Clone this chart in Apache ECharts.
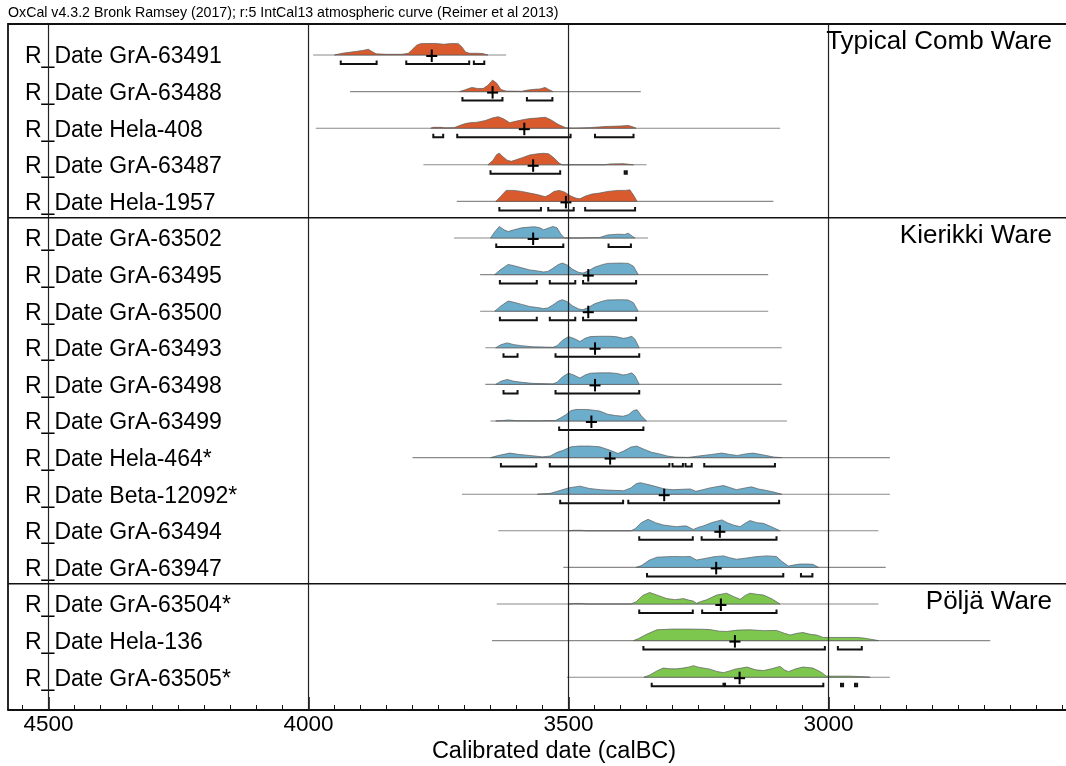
<!DOCTYPE html>
<html><head><meta charset="utf-8">
<script src="https://cdn.jsdelivr.net/npm/echarts@6/dist/echarts.min.js"></script>
<style>html,body{margin:0;padding:0;background:#fff}#c{width:1066px;height:766px}</style>
</head><body><div id="c"></div><script>
// ---------- DATA ----------
const titleText = 'OxCal v4.3.2 Bronk Ramsey (2017); r:5 IntCal13 atmospheric curve (Reimer et al 2013)';
const axisName = 'Calibrated date (calBC)';
const majorTicks = [4500, 4000, 3500, 3000];
const minorTicks = [4550,4450,4400,4350,4300,4250,4200,4150,4100,4050,3950,3900,3850,3800,3750,3700,3650,3600,3550,3450,3400,3350,3300,3250,3200,3150,3100,3050,2950,2900,2850,2800,2750,2700,2650,2600,2550];

const sampleNames = ['GrA-63491','GrA-63488','Hela-408','GrA-63487','Hela-1957',
  'GrA-63502','GrA-63495','GrA-63500','GrA-63493','GrA-63498','GrA-63499','Hela-464*','Beta-12092*','GrA-63494','GrA-63947',
  'GrA-63504*','Hela-136','GrA-63505*'];

const sectionNames = ['Typical Comb Ware', 'Kierikki Ware', 'Pöljä Ware'];
const sectionStartRow = [0, 5, 15];
const sectionEndRow = [4, 14, 17];
const sectionColors = ['#D95A2C', '#6BADCA', '#7DC74F'];

// relative probability curves: [year calBC, relative density]
const d_GrA63491 = [[3950,0],[3935,1.5],[3910,3],[3895,4],[3885,5],[3878,3],[3870,1],[3850,0.6],[3820,0.6],[3808,1.5],[3800,5],[3792,8.5],[3785,9.8],[3770,10],[3755,10],[3740,9.3],[3725,10],[3712,9.8],[3705,7],[3698,2.5],[3690,1.5],[3675,1.5],[3665,1.2],[3655,0]];
const d_GrA63488 = [[3710,0],[3700,1.5],[3686,4],[3675,3],[3664,3],[3655,6],[3646,11],[3638,8],[3630,2],[3620,0.5],[3590,0.3],[3578,1.5],[3565,2.2],[3555,2.5],[3545,4],[3538,2],[3530,0]];
const d_Hela408 = [[3765,0],[3760,0.8],[3745,0.8],[3738,0.3],[3720,0.5],[3712,2],[3700,4],[3690,5],[3675,5.5],[3660,7],[3645,9.5],[3635,10.5],[3625,8.5],[3613,5],[3600,6.5],[3585,8],[3574,8.8],[3560,9.3],[3545,10],[3535,8],[3520,3.5],[3505,0.3],[3490,0],[3460,0.5],[3430,1.5],[3400,2],[3385,2.5],[3378,1.5],[3370,0]];
const d_GrA63487 = [[3655,0],[3645,4],[3638,9],[3633,10],[3626,7],[3618,4],[3610,3],[3600,4.5],[3590,6],[3575,8.5],[3560,9.5],[3548,10],[3538,9.5],[3528,6],[3518,1.5],[3512,0],[3430,0],[3420,0.8],[3395,1],[3385,0.5],[3375,0]];
const d_Hela1957 = [[3640,0],[3630,5],[3620,10.5],[3605,10.5],[3590,9.5],[3575,8],[3560,6.5],[3545,4.5],[3538,6],[3528,9.5],[3518,10.5],[3508,9],[3495,5],[3485,3],[3478,2.5],[3468,5],[3455,7],[3440,8],[3425,9.5],[3405,10.5],[3390,10.5],[3382,11],[3375,6],[3368,0]];
const d_GrA63502 = [[3650,0],[3642,6],[3633,11.3],[3624,8],[3616,6.3],[3605,8],[3590,10],[3575,10.7],[3565,11],[3555,10],[3548,8],[3540,9.5],[3530,11.3],[3522,10],[3515,4],[3508,0],[3480,0],[3440,0.5],[3425,3],[3405,3.7],[3392,3.5],[3385,4.7],[3378,2],[3372,0]];
const d_GrA63495 = [[3642,0],[3630,5],[3616,9.7],[3605,8.5],[3590,6.5],[3575,4.5],[3560,3.5],[3548,2.5],[3540,3],[3530,6],[3520,9.5],[3512,11],[3502,9],[3492,5],[3480,2],[3472,1.5],[3462,3.5],[3450,7],[3435,9.5],[3425,10.7],[3400,11],[3385,10.7],[3375,8],[3366,0]];
const d_GrA63500 = [[3642,0],[3630,5],[3616,9.7],[3605,8.5],[3590,6.5],[3575,4.5],[3560,3.5],[3548,2.5],[3540,3],[3530,6],[3520,9.5],[3512,11],[3502,9],[3492,5],[3480,2],[3472,1.5],[3462,3.5],[3450,7],[3435,9.5],[3425,10.7],[3400,11],[3385,10.7],[3375,8],[3366,0]];
const d_GrA63493 = [[3640,0],[3630,3],[3618,4.7],[3605,3],[3590,2],[3570,1],[3545,0.7],[3530,0.5],[3522,2],[3512,7],[3500,10.7],[3490,9],[3478,6],[3468,9],[3458,10.7],[3440,11],[3420,11],[3407,10.5],[3395,9],[3388,9.5],[3378,11],[3372,8],[3364,0]];
const d_GrA63498 = [[3640,0],[3630,3],[3618,4.7],[3605,3],[3590,2],[3570,1],[3545,0.7],[3530,0.5],[3522,2],[3512,7],[3500,10.7],[3490,9],[3478,6],[3468,9],[3458,10.7],[3440,11],[3420,11],[3407,10.5],[3395,9],[3388,9.5],[3378,11],[3372,8],[3364,0]];
const d_GrA63499 = [[3640,0],[3625,0.5],[3615,1],[3600,0.3],[3560,0.2],[3525,0.5],[3515,3],[3505,6],[3495,10],[3485,11],[3465,11],[3452,10.3],[3440,9.5],[3425,6.5],[3410,5.2],[3395,4.5],[3385,6],[3375,10],[3368,10.7],[3360,5],[3350,0]];
const d_Hela464 = [[3650,0],[3635,2],[3613,4.3],[3595,3],[3570,1.8],[3550,0.7],[3535,1.5],[3522,5],[3510,7],[3495,10.3],[3480,11],[3460,11],[3440,10.3],[3420,7],[3405,4],[3395,6],[3380,10],[3369,11],[3355,8],[3340,5],[3325,3.5],[3310,1.5],[3295,0.5],[3270,0.2],[3250,1.5],[3225,3],[3205,4.3],[3190,3],[3175,2],[3160,3.5],[3145,4.3],[3125,2.5],[3105,0.5],[3090,0]];
const d_Beta12092 = [[3560,0],[3535,0.8],[3520,3],[3500,6],[3478,7.7],[3460,5.5],[3439,4.3],[3415,3.7],[3394,3.3],[3380,6],[3370,10],[3362,11],[3345,9],[3330,7],[3315,5],[3299,4.3],[3280,4.7],[3266,5],[3255,2.7],[3240,4.5],[3228,6],[3202,8.3],[3177,4.3],[3160,6],[3148,7],[3135,5],[3121,3.7],[3105,2],[3090,0]];
const d_GrA63494 = [[3500,0],[3490,0.5],[3475,0.5],[3465,0],[3380,0],[3372,2],[3360,8],[3347,11.3],[3333,8],[3318,5.7],[3300,4.5],[3292,4],[3280,4.7],[3273,4.7],[3260,1.3],[3250,3.5],[3241,4.7],[3225,8],[3205,10.7],[3195,8],[3183,5.7],[3170,4],[3160,7.5],[3151,10],[3138,8],[3125,7.3],[3110,4],[3093,0]];
const d_GrA63947 = [[3370,0],[3359,2],[3345,7],[3330,10],[3300,10.7],[3280,10.5],[3266,10.7],[3254,7.3],[3240,8.5],[3220,10.5],[3202,11.3],[3190,9.5],[3177,8],[3160,9],[3140,10.5],[3119,11.3],[3100,10.7],[3090,6],[3077,1.3],[3065,2.5],[3055,3.3],[3040,3.3],[3030,3],[3019,0]];
const d_GrA63504 = [[3500,0],[3490,0.5],[3475,0.5],[3465,0],[3380,0],[3370,2],[3357,8],[3344,10.7],[3328,8],[3311,5],[3295,4],[3279,5],[3268,3.5],[3260,2.7],[3254,0.7],[3244,2.5],[3234,4],[3215,8.3],[3196,10],[3183,7],[3170,4.3],[3160,8],[3151,10],[3138,9],[3125,8.3],[3110,5],[3093,0]];
const d_Hela136 = [[3375,0],[3365,2],[3350,6],[3330,10.3],[3300,11],[3270,11],[3240,10.8],[3228,10.5],[3210,9],[3196,8.7],[3175,10],[3151,10.3],[3125,9.5],[3100,9.7],[3085,7],[3074,5.3],[3060,7],[3049,7.7],[3035,6],[3023,5.3],[3010,3],[3000,3],[2970,3],[2945,3],[2933,2.5],[2915,1],[2904,0]];
const d_GrA63505 = [[3355,0],[3344,2],[3330,6],[3318,8.7],[3305,8],[3292,8],[3280,8.7],[3268,9.7],[3260,11],[3250,9.5],[3228,7.7],[3215,5.5],[3202,4.3],[3190,6],[3180,7.7],[3170,8.5],[3157,9.7],[3140,7],[3125,6.3],[3110,8],[3093,10.3],[3085,7],[3077,5.3],[3063,8],[3049,9.7],[3030,8.7],[3015,5],[3004,1],[2990,1],[2960,1],[2935,0.5],[2920,0]];

const densities = [d_GrA63491,d_GrA63488,d_Hela408,d_GrA63487,d_Hela1957,d_GrA63502,d_GrA63495,d_GrA63500,d_GrA63493,d_GrA63498,d_GrA63499,d_Hela464,d_Beta12092,d_GrA63494,d_GrA63947,d_GrA63504,d_Hela136,d_GrA63505];

// extent of the plotted likelihood (thin line), [from, to] calBC
const lineExtents = [[3991,3620],[3920,3361],[3986,3093],[3779,3350],[3715,3106],[3720,3347],[3670,3116],[3670,3116],[3660,3090],[3660,3090],[3650,3080],[3800,2882],[3705,2882],[3635,2904],[3510,2890],[3638,2904],[3647,2689],[3503,2882]];

// median (cross)
const medians = [3763,3646,3585,3568,3505,3568,3462,3462,3449,3449,3456,3420,3316,3209,3216,3207,3180,3171];

// 95.4% ranges
const ranges = [
  [[3938,3869],[3812,3691],[3682,3662]],
  [[3704,3627],[3580,3531]],
  [[3760,3741],[3714,3496],[3449,3375]],
  [[3650,3516],[3392,3388]],
  [[3633,3553],[3539,3490],[3468,3372]],
  [[3639,3510],[3423,3380]],
  [[3632,3561],[3536,3487],[3472,3370]],
  [[3632,3561],[3536,3487],[3472,3370]],
  [[3625,3598],[3525,3364]],
  [[3625,3598],[3525,3364]],
  [[3518,3356]],
  [[3630,3562],[3536,3306],[3300,3280],[3275,3263],[3239,3103]],
  [[3516,3395],[3385,3095]],
  [[3364,3261],[3244,3100]],
  [[3349,3087],[3053,3031]],
  [[3364,3261],[3243,3100]],
  [[3356,3007],[2982,2936]],
  [[3340,3202],[3199,3010],[2976,2972],[2949,2945]]
];

// ---------- CHART ----------
const FONT = '"Liberation Sans", Arial, Helvetica, sans-serif';
function sectionOf(i) { for (let s = 0; s < sectionStartRow.length; s++) if (i >= sectionStartRow[s] && i <= sectionEndRow[s]) return s; return 0; }

const chart = echarts.init(document.getElementById('c'), null, {renderer: 'canvas'});

function renderRow(params, api) {
  const i = params.dataIndex;
  const cs = params.coordSys;
  const y0 = api.coord([medians[i], i])[1];
  const unit = api.size([0, 1])[1];
  const peak = unit * 0.315;
  const color = sectionColors[sectionOf(i)];
  const dens = densities[i];
  const maxD = Math.max.apply(null, dens.map(p => p[1]));
  const pts = dens.map(p => [api.coord([p[0], i])[0], y0 - p[1] / maxD * peak]);
  const children = [];
  const le = lineExtents[i];
  children.push({type: 'line', shape: {x1: api.coord([le[0], i])[0], y1: y0, x2: api.coord([le[1], i])[0], y2: y0},
    style: {stroke: '#8a8a8a', lineWidth: 1.1}});
  children.push({type: 'polygon', shape: {points: pts}, style: {fill: color, stroke: '#5a5a5a', lineWidth: 0.7}});
  const by = y0 + 9;
  ranges[i].forEach(r => {
    const xa = api.coord([r[0], i])[0], xb = api.coord([r[1], i])[0];
    children.push({type: 'polyline', shape: {points: [[xa, by - 3.5], [xa, by], [xb, by], [xb, by - 3.5]]},
      style: {stroke: '#111', lineWidth: 2, fill: null}});
  });
  const xm = api.coord([medians[i], i])[0];
  children.push({type: 'line', shape: {x1: xm - 5.5, y1: y0 + 1, x2: xm + 5.5, y2: y0 + 1}, style: {stroke: '#000', lineWidth: 2}});
  children.push({type: 'line', shape: {x1: xm, y1: y0 - 5.5, x2: xm, y2: y0 + 7}, style: {stroke: '#000', lineWidth: 2}});
  children.push({type: 'text', x: cs.x + 17, y: y0 + 2, style: {text: 'R_Date ' + sampleNames[i], font: '23px ' + FONT, fill: '#000', align: 'left', verticalAlign: 'middle'}});
  return {type: 'group', children};
}

function renderGrid(params, api) {
  const cs = params.coordSys;
  const x = api.coord([majorTicks[params.dataIndex], 0])[0];
  return {type: 'line', shape: {x1: x, y1: cs.y, x2: x, y2: cs.y + cs.height}, style: {stroke: '#222', lineWidth: 1.2}};
}

function renderSection(params, api) {
  const cs = params.coordSys;
  const s = params.dataIndex;
  const start = sectionStartRow[s];
  const children = [];
  let top = cs.y;
  if (start > 0) {
    top = api.coord([4000, start - 0.555])[1];
    children.push({type: 'line', shape: {x1: cs.x, y1: top, x2: cs.x + cs.width, y2: top}, style: {stroke: '#111', lineWidth: 1.5}});
  } else {
    // outer frame: top and left edges (right edge lies beyond the picture)
    children.push({type: 'polyline', shape: {points: [[cs.x + cs.width + 2, cs.y], [cs.x, cs.y], [cs.x, cs.y + cs.height]]}, style: {stroke: '#111', lineWidth: 1.8, fill: null}});
  }
  children.push({type: 'text', x: 1052, y: top + 18, style: {text: sectionNames[s], font: '26px ' + FONT, fill: '#000', align: 'right', verticalAlign: 'middle'}});
  return {type: 'group', children};
}

// left edge of the plot is 4577.9 calBC, right edge (x = 1066 px) 2543.3 calBC
const xMax = 4577.9, xMin = 2543.3;
const option = {
  animation: false,
  backgroundColor: '#fff',
  grid: {left: 8, right: 0, top: 24, bottom: 56, show: false, containLabel: false},
  xAxis: [{
    type: 'value', inverse: true, min: xMin, max: xMax, position: 'bottom',
    axisLine: {show: true, onZero: false, lineStyle: {color: '#111', width: 2}},
    axisTick: {show: true, inside: true, length: 13, customValues: majorTicks, lineStyle: {color: '#111', width: 1.5}},
    axisLabel: {show: true, customValues: majorTicks, margin: 3, fontSize: 22.5, fontFamily: FONT, color: '#000', formatter: v => String(v)},
    splitLine: {show: false}
  }, {
    type: 'value', inverse: true, min: xMin, max: xMax, position: 'bottom',
    axisLine: {show: false, onZero: false},
    axisTick: {show: true, inside: true, length: 5, customValues: minorTicks, lineStyle: {color: '#111', width: 1}},
    axisLabel: {show: false},
    splitLine: {show: false}
  }],
  yAxis: {type: 'value', inverse: true, min: -0.847, max: 17.896, show: false, axisLine: {onZero: false}},
  graphic: [
    {type: 'text', left: 8, top: 6, style: {text: titleText, font: '14.2px ' + FONT, fill: '#000'}},
    {type: 'text', x: 554, y: 752, style: {text: axisName, font: '23.5px ' + FONT, fill: '#000', align: 'center', verticalAlign: 'middle'}}
  ],
  series: [
    {type: 'custom', name: 'rows', xAxisIndex: 0, renderItem: renderRow, data: medians.map((m, i) => [m, i]), encode: {x: 0, y: 1}, z: 2},
    {type: 'custom', name: 'gridlines', xAxisIndex: 0, renderItem: renderGrid, data: majorTicks.map(v => [v, 0]), encode: {x: 0, y: 1}, z: 4},
    {type: 'custom', name: 'sections', xAxisIndex: 0, renderItem: renderSection, data: sectionNames.map((n, s) => [4000, sectionStartRow[s]]), encode: {x: 0, y: 1}, z: 5}
  ]
};
chart.setOption(option);
</script></body></html>
